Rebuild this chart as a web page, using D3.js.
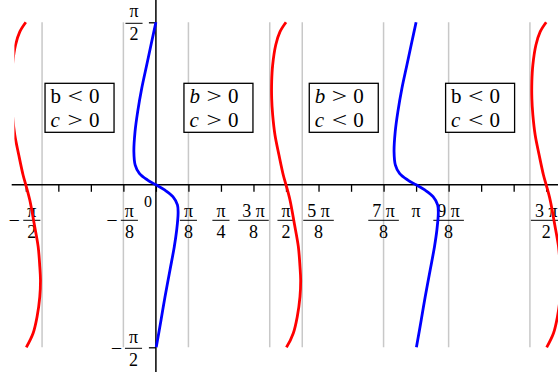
<!DOCTYPE html>
<html>
<head>
<meta charset="utf-8">
<title>phase curves</title>
<script src="https://cdn.jsdelivr.net/npm/d3@7"></script>
<style>
  body { margin: 0; background: #fff; }
  svg text { font-family: "Liberation Serif", "Times New Roman", serif; fill: #000; }
</style>
</head>
<body>
<svg id="chart" width="558" height="377"></svg>
<script>
const PI = Math.PI;

// curve shapes: y (rad) and horizontal offset from the curve centre (rad)
const blueY  = [1.571, 1.383, 1.158, 0.933, 0.707, 0.513, 0.320, 0.191, 0.111, 0.046, 0,
                -0.050, -0.115, -0.195, -0.276, -0.437, -0.598, -0.824, -1.082, -1.307, -1.571];
const blueDX = [0, -0.051, -0.111, -0.171, -0.220, -0.252, -0.266, -0.250, -0.200, -0.100, 0,
                0.105, 0.205, 0.260, 0.268, 0.251, 0.222, 0.170, 0.110, 0.062, 0.004];
const redY   = [1.571, 1.480, 1.351, 1.158, 0.997, 0.836, 0.675, 0.481, 0.288, 0.095, 0,
                -0.147, -0.372, -0.598, -0.792, -0.920, -1.082, -1.275, -1.435, -1.571];
const redDX  = [0, -0.072, -0.124, -0.161, -0.173, -0.173, -0.161, -0.133, -0.085, -0.033, 0,
                0.048, 0.100, 0.149, 0.169, 0.177, 0.169, 0.136, 0.088, 0.006];

// where each copy of the curve sits (multiples of pi)
const blueCenters = [0, 1];
const redCenters  = [-0.5, 0.5, 1.5];

// x ticks in eighths of pi, and the labelled ones
const xTickEighths  = [-4, -3, -2, -1, 0, 1, 2, 3, 4, 5, 6, 7, 8, 9, 10, 11, 12];
const labelEighths  = [-4, -1, 1, 2, 3, 4, 5, 7, 8, 9, 12];
const labelNums     = ["π", "π", "π", "π", "3 π", "π", "5 π", "7 π", "π", "9 π", "3 π"];
const labelDens     = ["2", "8", "8", "4", "8", "2", "8", "8", "", "8", "2"];

// grey guide lines, sixteenths of pi
const guideSixteenths = [-7, -2, 2, 7, 9, 14, 18, 23];

// annotation boxes
const boxCenters = [-0.2935, 0.2404, 0.722, 1.246];   // multiples of pi
const boxBItalic = [false, true, true, false];
const boxBRel    = ["<", ">", ">", "<"];
const boxCRel    = [">", ">", "<", "<"];

const W = 558, H = 377;
const svg = d3.select("#chart");

const x = d3.scaleLinear().domain([-0.5992 * PI, 1.5454 * PI]).range([0, W]);
const y = d3.scaleLinear().domain([-PI / 2, PI / 2]).range([347.3, 22.3]);

// guide lines
svg.append("g")
  .selectAll("line")
  .data(guideSixteenths)
  .enter()
  .append("line")
    .attr("x1", d => x(d * PI / 16))
    .attr("x2", d => x(d * PI / 16))
    .attr("y1", y(PI / 2))
    .attr("y2", y(-PI / 2))
    .attr("stroke", "#c8c8c8")
    .attr("stroke-width", 1.5);

// x axis
const xAxis = svg.append("g")
  .attr("transform", `translate(0,${y(0)})`)
  .call(d3.axisBottom(x)
    .tickValues(xTickEighths.map(k => k * PI / 8))
    .tickSize(7)
    .tickSizeOuter(0)
    .tickFormat(""));
xAxis.select(".domain").attr("d", `M11.7,0H${W}`).attr("stroke-width", 1.5);
xAxis.selectAll(".tick line").attr("stroke-width", 1.3);

// y axis
const yAxis = svg.append("g")
  .attr("transform", `translate(${x(0)},0)`)
  .call(d3.axisLeft(y)
    .tickValues([-PI / 2, PI / 2])
    .tickSize(7)
    .tickSizeOuter(0)
    .tickFormat(""));
yAxis.select(".domain").attr("d", "M0,0V372").attr("stroke-width", 1.5);
yAxis.selectAll(".tick line").attr("stroke-width", 1.3);

// stacked fraction label
function fraction(cx, yBar, num, den, numGap, denGap, size) {
  const g = svg.append("g").style("font-size", size + "px");
  const t1 = g.append("text").attr("x", cx).attr("y", yBar - numGap)
    .attr("text-anchor", "middle").text(num);
  if (!den) return;
  const t2 = g.append("text").attr("x", cx).attr("y", yBar + denGap)
    .attr("text-anchor", "middle").text(den);
  const w = Math.max(t1.node().getComputedTextLength(), t2.node().getComputedTextLength());
  g.append("line")
    .attr("x1", cx - w / 2 - 4).attr("x2", cx + w / 2 + 4)
    .attr("y1", yBar).attr("y2", yBar)
    .attr("stroke", "#000").attr("stroke-width", 1);
}

function minus(cx, yBase) {
  svg.append("text").attr("x", cx).attr("y", yBase)
    .attr("text-anchor", "middle").style("font-size", "18px").text("–");
}

const xBar = y(0) + 35.5;
labelEighths.forEach((k, i) => {
  const tx = x(k * PI / 8);
  if (k < 0) {
    minus(tx - 11.5, xBar + 4.5);
    fraction(tx + 6, xBar, labelNums[i], labelDens[i], 3.3, 17.3, 18);
  } else {
    fraction(tx, xBar, labelNums[i], labelDens[i], 3.3, 17.3, 18);
  }
});

svg.append("text").attr("x", x(0) - 8).attr("y", y(0) + 22)
  .attr("text-anchor", "middle").style("font-size", "16px").text("0");

// y labels
fraction(134, y(PI / 2) + 1, "π", "2", 6, 17, 18);
fraction(133.5, y(-PI / 2) + 1, "π", "2", 5, 17.5, 18);
minus(116.5, y(-PI / 2) + 6);

// boxes
const boxTop = y(0.981);
boxCenters.forEach((c, i) => {
  const left = x(c * PI) - 34.5;
  const g = svg.append("g").attr("transform", `translate(${left},${boxTop})`)
    .style("font-size", "21px");
  g.append("rect").attr("width", 69).attr("height", 49)
    .attr("fill", "#fff").attr("stroke", "#000").attr("stroke-width", 1.3);
  const rows = [
    { v: "b", it: boxBItalic[i], rel: boxBRel[i], base: 19.7 },
    { v: "c", it: true, rel: boxCRel[i], base: 43.7 }
  ];
  rows.forEach(r => {
    g.append("text").attr("x", 5.5).attr("y", r.base)
      .style("font-style", r.it ? "italic" : "normal").text(r.v);
    g.append("text")
      .attr("transform", `translate(22.5,${r.base}) scale(1.3,1)`)
      .text(r.rel);
    g.append("text").attr("x", 44).attr("y", r.base).text("0");
  });
});

// curves, clipped at the left edge of the plot
svg.append("clipPath").attr("id", "plotclip")
  .append("rect").attr("x", 14.4).attr("y", 0).attr("width", W).attr("height", H);

const curves = svg.append("g").attr("clip-path", "url(#plotclip)");
const line = d3.line().curve(d3.curveCatmullRom);

redCenters.forEach(c => {
  curves.append("path")
    .attr("d", line(redY.map((v, i) => [x(c * PI + redDX[i]), y(v)])))
    .attr("fill", "none").attr("stroke", "#ff0000").attr("stroke-width", 2.8);
});
blueCenters.forEach(c => {
  curves.append("path")
    .attr("d", line(blueY.map((v, i) => [x(c * PI + blueDX[i]), y(v)])))
    .attr("fill", "none").attr("stroke", "#0000ff").attr("stroke-width", 2.8);
});
</script>
</body>
</html>
